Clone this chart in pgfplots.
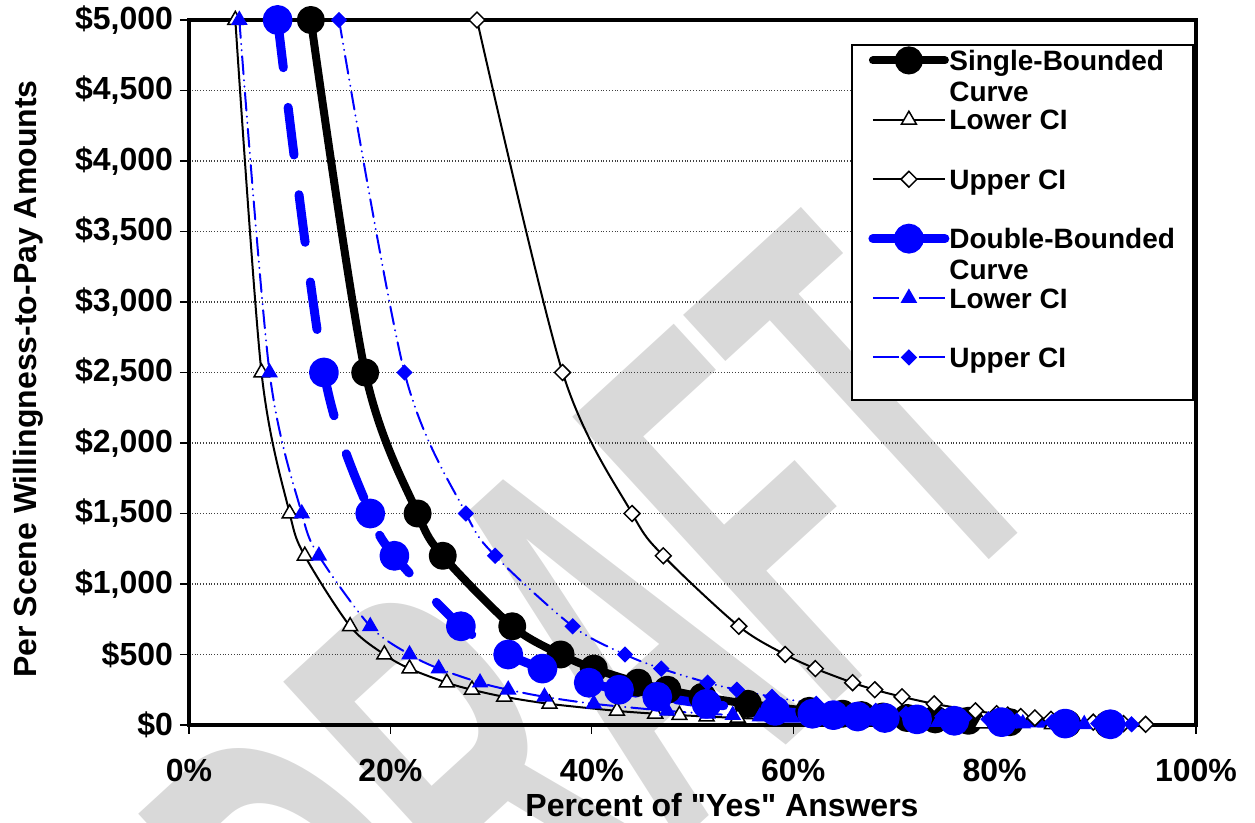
\documentclass[border=0pt]{standalone}
\usepackage{pgfplots}
\pgfplotsset{compat=1.18}
\usepackage{fontspec}
\setmainfont{Liberation Sans}[Ligatures=TeXOff]
\definecolor{xlblue}{RGB}{0,0,255}
\newcommand{\LE}[1]{\makebox[114.5pt][l]{\rule[-4pt]{0pt}{15pt}#1}}
\newcommand{\LEtwo}[2]{\makebox[114.5pt][l]{\rule[-4pt]{0pt}{15pt}\rlap{\raisebox{-15.5pt}[0pt][0pt]{#2}}#1}}
\begin{document}
\begin{tikzpicture}
% watermark
\node[rotate=42.5, xscale=0.483, anchor=base east, inner sep=0pt, text=black!15,
  font=\bfseries\fontsize{281}{281}\selectfont] at (437.9pt,117.4pt) {DRAFT};
\begin{axis}[
  at={(0pt,0pt)}, anchor=south west,
  scale only axis, width=503.5pt, height=352.5pt,
  xmin=0, xmax=100, ymin=0, ymax=5000,
  clip=false,
  axis line style={line width=2pt, black},
  xtick={0,20,40,60,80,100},
  xticklabels={0\%,20\%,40\%,60\%,80\%,100\%},
  ytick={0,500,1000,1500,2000,2500,3000,3500,4000,4500,5000},
  yticklabels={\$0,\$500,{\$1,000},{\$1,500},{\$2,000},{\$2,500},{\$3,000},{\$3,500},{\$4,000},{\$4,500},{\$5,000}},
  xtick pos=bottom, ytick pos=left,
  tick align=outside, major tick length=4.5pt,
  tick style={black, line width=0.6pt},
  ticklabel style={font=\bfseries\fontsize{16}{19}\selectfont},
  xticklabel style={yshift=-9pt},
  ymajorgrids,
  grid style={densely dotted, black!75, line width=0.6pt},
  xlabel={Percent of "Yes" Answers},
  ylabel={Per Scene Willingness-to-Pay Amounts},
  label style={font=\bfseries\fontsize{16}{19}\selectfont},
  xlabel style={at={(axis description cs:0.5293,0)}, anchor=north, yshift=-34pt, inner sep=0pt},
  ylabel style={at={(axis description cs:-0.1599,0.4908)}, anchor=center, inner sep=0pt},
  legend style={at={(axis description cs:0.6584,0.9645)}, anchor=north west,
    draw=none, fill=none,
    inner xsep=8pt, inner ysep=1.5pt, row sep=17.2pt, column sep=0pt,
    font=\bfseries\fontsize{14}{16}\selectfont,
    nodes={inner sep=0pt}, cells={anchor=base west}},
  legend image code/.code={\draw[mark repeat=2,mark phase=2,#1] plot coordinates {(0pt,5pt) (18pt,5pt) (36pt,5pt)};},
]
% Single-bounded curve
\addplot[black, line width=4pt, smooth, line cap=round, line join=round,
  mark=*, mark size=5pt, mark options={solid}, forget plot] coordinates {
(12.1,5000)(17.5,2500)(22.7,1500)(25.2,1200)(32.1,700)(36.9,500)(40.2,400)(44.6,300)(47.5,250)(51.0,200)(55.5,150)(61.6,100)(64.9,80)(66.8,70)(68.9,60)(71.3,50)(74.1,40)(77.4,30)(81.5,20)(87.2,10)(91.3,5)};
% Lower CI (single)
\addplot[black, line width=1pt, smooth,
  mark=triangle*, mark size=4.3pt, mark options={solid, fill=white, draw=black, line width=0.75pt}, forget plot] coordinates {
(4.6,5000)(7.2,2500)(10.0,1500)(11.5,1200)(16.0,700)(19.4,500)(21.9,400)(25.6,300)(28.1,250)(31.3,200)(35.8,150)(42.5,100)(46.3,80)(48.7,70)(51.4,60)(54.5,50)(58.3,40)(63.1,30)(69.4,20)(78.7,10)(85.7,5)};
% Upper CI (single)
\addplot[black, line width=1pt, smooth,
  mark=square*, mark size=2.8pt, mark options={solid, rotate=45, fill=white, draw=black, line width=0.75pt}, forget plot] coordinates {
(28.6,5000)(37.1,2500)(44.0,1500)(47.1,1200)(54.6,700)(59.2,500)(62.2,400)(65.9,300)(68.1,250)(70.8,200)(74.0,150)(78.1,100)(80.2,80)(81.3,70)(82.6,60)(84.0,50)(85.6,40)(87.5,30)(89.8,20)(92.8,10)(95.0,5)};
% Double-bounded curve
\addplot[xlblue, line width=4.5pt, smooth, line cap=round, line join=round,
  dash pattern=on 24pt off 20pt,
  mark=*, mark size=5.2pt, mark options={solid}, forget plot] coordinates {
(8.8,5000)(13.4,2500)(18.0,1500)(20.4,1200)(27.0,700)(31.7,500)(35.1,400)(39.7,300)(42.7,250)(46.5,200)(51.4,150)(58.2,100)(61.9,80)(64.0,70)(66.4,60)(69.1,50)(72.3,40)(76.0,30)(80.7,20)(87.0,10)(91.5,5)};
% Lower CI (double)
\addplot[xlblue, line width=1pt, smooth, line cap=round,
  dash pattern=on 9pt off 3pt on 0.1pt off 3pt on 0.1pt off 3pt,
  mark=triangle*, mark size=3.8pt, mark options={solid, fill=xlblue}, forget plot] coordinates {
(5.0,5000)(8.0,2500)(11.2,1500)(12.9,1200)(18.0,700)(21.9,500)(24.8,400)(28.9,300)(31.7,250)(35.3,200)(40.2,150)(47.5,100)(51.5,80)(54.0,70)(56.7,60)(59.9,50)(63.8,40)(68.4,30)(74.4,20)(82.8,10)(88.9,5)};
% Upper CI (double)
\addplot[xlblue, line width=1pt, smooth, line cap=round,
  dash pattern=on 9pt off 3pt on 0.1pt off 3pt on 0.1pt off 3pt,
  mark=square*, mark size=2.4pt, mark options={solid, rotate=45, fill=xlblue}, forget plot] coordinates {
(14.9,5000)(21.4,2500)(27.5,1500)(30.4,1200)(38.1,700)(43.3,500)(46.9,400)(51.5,300)(54.4,250)(57.9,200)(62.3,150)(68.2,100)(71.2,80)(72.9,70)(74.8,60)(77.0,50)(79.4,40)(82.2,30)(85.7,20)(90.3,10)(93.6,5)};

% legend frame
\draw[black, line width=0.6pt, fill=white] (axis description cs:0.6584,0.9645) rectangle (axis description cs:0.9970,0.4610);

\addlegendimage{black, line width=4pt, line cap=round, mark=*, mark size=5pt, mark options={solid}}
\addlegendentry{\LEtwo{Single-Bounded}{Curve}}
\addlegendimage{black, line width=1pt, mark=triangle*, mark size=4.3pt, mark options={solid, fill=white, draw=black, line width=0.75pt}}
\addlegendentry{\LE{Lower CI}}
\addlegendimage{black, line width=1pt, mark=square*, mark size=2.8pt, mark options={solid, rotate=45, fill=white, draw=black, line width=0.75pt}}
\addlegendentry{\LE{Upper CI}}
\addlegendimage{xlblue, line width=4.5pt, line cap=round, mark=*, mark size=5.2pt, mark options={solid}}
\addlegendentry{\LEtwo{Double-Bounded}{Curve}}
\addlegendimage{xlblue, line width=1pt, dash pattern=on 13pt off 10pt on 20pt off 1pt, mark=triangle*, mark size=3.8pt, mark options={solid, fill=xlblue}}
\addlegendentry{\LE{Lower CI}}
\addlegendimage{xlblue, line width=1pt, dash pattern=on 13pt off 10pt on 20pt off 1pt, mark=square*, mark size=2.4pt, mark options={solid, rotate=45, fill=xlblue}}
\addlegendentry{\LE{Upper CI}}
\end{axis}
\pgfresetboundingbox
\path[use as bounding box] (-94.5pt,-49pt) rectangle (533pt,362.5pt);
\end{tikzpicture}
\end{document}
